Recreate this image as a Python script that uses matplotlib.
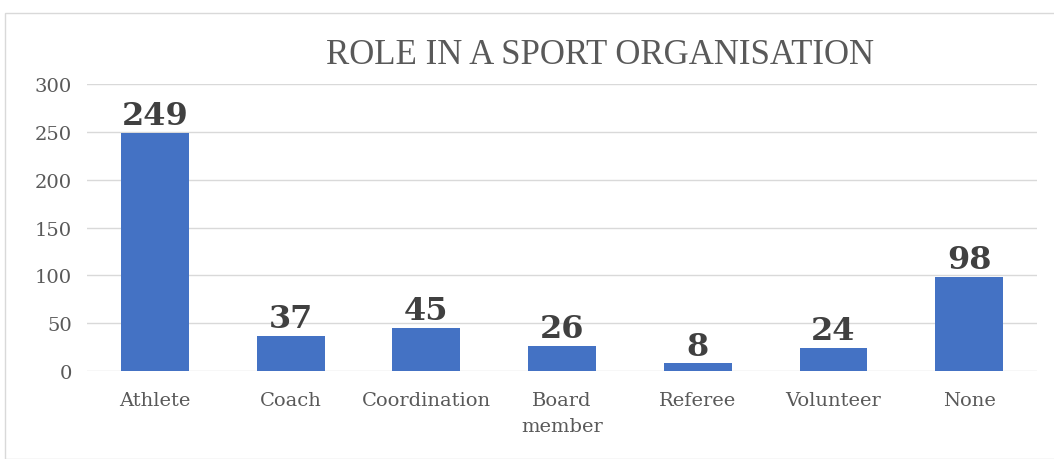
import matplotlib.pyplot as plt
from matplotlib.patches import Rectangle

roles = ['Athlete', 'Coach', 'Coordination', 'Board\nmember', 'Referee', 'Volunteer', 'None']
counts = [249, 37, 45, 26, 8, 24, 98]
yticks = [0, 50, 100, 150, 200, 250, 300]

fig = plt.figure(figsize=(10.54, 4.6), dpi=100)
ax = fig.add_axes([0.0825, 0.191, 0.9015, 0.624])

x = range(len(roles))
bars = ax.bar(x, counts, width=0.5, color='#4472C4', zorder=3)

for xi, v in zip(x, counts):
    ax.text(xi, v + 2, str(v), ha='center', va='bottom', fontsize=23,
            fontweight='bold', color='#404040', family='DejaVu Serif')

ax.set_xlim(-0.5, len(roles) - 0.5)
ax.set_ylim(0, 300)
ax.set_yticks(yticks)
ax.set_xticks(list(x))
ax.set_xticklabels(roles, fontsize=14, color='#595959', family='DejaVu Serif',
                   linespacing=1.6)
ax.set_yticklabels([str(t) for t in yticks], fontsize=14, color='#595959',
                   family='DejaVu Serif')
ax.tick_params(axis='both', length=0)
ax.tick_params(axis='y', pad=11)
ax.tick_params(axis='x', pad=14)
ax.grid(axis='y', color='#D9D9D9', linewidth=1, zorder=0)
for s in ax.spines.values():
    s.set_visible(False)

fig.text(600 / 1054, 1 - 55 / 460, 'ROLE IN A SPORT ORGANISATION', ha='center',
         va='center', fontsize=25, color='#595959', family='Liberation Serif')

fig.patches.append(Rectangle((5 / 1054, 0), 1.2, 1 - 14 / 460, transform=fig.transFigure,
                             fill=False, edgecolor='#D9D9D9', linewidth=1))

fig.savefig('out.png', dpi=100)
